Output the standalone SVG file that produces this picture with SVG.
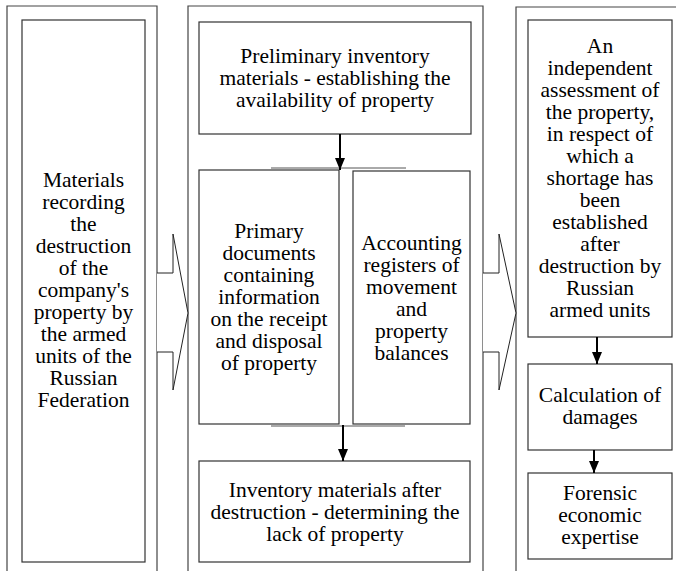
<svg xmlns="http://www.w3.org/2000/svg" width="676" height="571" viewBox="0 0 676 571">
  <defs>
    <marker id="head" viewBox="0 0 12 10" refX="12" refY="5" markerWidth="12" markerHeight="10" markerUnits="userSpaceOnUse" orient="auto">
      <path d="M0,0 L12,5 L0,10 Z" fill="#000"/>
    </marker>
  </defs>

  <rect width="676" height="571" fill="#fff"/>

  <!-- column frames (open at the bottom) -->
  <g id="frames" fill="none" stroke="#444" stroke-width="1.2">
    <path d="M7,571 V6 H157 V571"/>
    <path d="M188,571 V6 H483 V571"/>
    <path d="M516,571 V7 H677"/>
  </g>

  <!-- wide hollow arrows between the columns -->
  <g id="transfer-arrows" fill="#fff" stroke="#222" stroke-width="1">
    <path d="M157,273 H173 V234 L188,313 L173,390 V352 H157"/>
    <path d="M483,273 H499 V234 L516,313 L499,390 V352 H483"/>
  </g>

  <g id="boxes" fill="#fff" stroke="#333" stroke-width="1.2">
    <rect id="materials-box" x="22" y="20" width="123" height="542"/>
    <rect id="preliminary-box" x="199" y="22" width="272" height="112"/>
    <rect id="primary-box" x="199" y="170" width="140" height="254"/>
    <rect id="accounting-box" x="353" y="171" width="117" height="253"/>
    <rect id="inventory-box" x="199" y="461" width="271" height="101"/>
    <rect id="assessment-box" x="528" y="20" width="144" height="317"/>
    <rect id="damages-box" x="528" y="364" width="144" height="86"/>
    <rect id="expertise-box" x="528" y="473" width="144" height="86"/>
  </g>

  <g id="materials">
    <text font-family="Liberation Serif" font-size="21.5" text-anchor="middle" x="83.5" y="187">Materials</text>
    <text font-family="Liberation Serif" font-size="21.5" text-anchor="middle" x="83.5" y="209">recording</text>
    <text font-family="Liberation Serif" font-size="21.5" text-anchor="middle" x="83.5" y="231">the</text>
    <text font-family="Liberation Serif" font-size="21.5" text-anchor="middle" x="83.5" y="253">destruction</text>
    <text font-family="Liberation Serif" font-size="21.5" text-anchor="middle" x="83.5" y="275">of the</text>
    <text font-family="Liberation Serif" font-size="21.5" text-anchor="middle" x="83.5" y="297">company's</text>
    <text font-family="Liberation Serif" font-size="21.5" text-anchor="middle" x="83.5" y="319">property by</text>
    <text font-family="Liberation Serif" font-size="21.5" text-anchor="middle" x="83.5" y="341">the armed</text>
    <text font-family="Liberation Serif" font-size="21.5" text-anchor="middle" x="83.5" y="363">units of the</text>
    <text font-family="Liberation Serif" font-size="21.5" text-anchor="middle" x="83.5" y="385">Russian</text>
    <text font-family="Liberation Serif" font-size="21.5" text-anchor="middle" x="83.5" y="407">Federation</text>
  </g>

  <g id="preliminary">
    <text font-family="Liberation Serif" font-size="21.5" text-anchor="middle" x="335" y="63">Preliminary inventory</text>
    <text font-family="Liberation Serif" font-size="21.5" text-anchor="middle" x="335" y="85">materials - establishing the</text>
    <text font-family="Liberation Serif" font-size="21.5" text-anchor="middle" x="335" y="107">availability of property</text>
  </g>

  <g id="primary-documents">
    <text font-family="Liberation Serif" font-size="21.5" text-anchor="middle" x="269" y="238">Primary</text>
    <text font-family="Liberation Serif" font-size="21.5" text-anchor="middle" x="269" y="260">documents</text>
    <text font-family="Liberation Serif" font-size="21.5" text-anchor="middle" x="269" y="282">containing</text>
    <text font-family="Liberation Serif" font-size="21.5" text-anchor="middle" x="269" y="304">information</text>
    <text font-family="Liberation Serif" font-size="21.5" text-anchor="middle" x="269" y="326">on the receipt</text>
    <text font-family="Liberation Serif" font-size="21.5" text-anchor="middle" x="269" y="348">and disposal</text>
    <text font-family="Liberation Serif" font-size="21.5" text-anchor="middle" x="269" y="370">of property</text>
  </g>

  <g id="accounting-registers">
    <text font-family="Liberation Serif" font-size="21.5" text-anchor="middle" x="411.5" y="250">Accounting</text>
    <text font-family="Liberation Serif" font-size="21.5" text-anchor="middle" x="411.5" y="272">registers of</text>
    <text font-family="Liberation Serif" font-size="21.5" text-anchor="middle" x="411.5" y="294">movement</text>
    <text font-family="Liberation Serif" font-size="21.5" text-anchor="middle" x="411.5" y="316">and</text>
    <text font-family="Liberation Serif" font-size="21.5" text-anchor="middle" x="411.5" y="338">property</text>
    <text font-family="Liberation Serif" font-size="21.5" text-anchor="middle" x="411.5" y="360">balances</text>
  </g>

  <g id="inventory-after">
    <text font-family="Liberation Serif" font-size="21.5" text-anchor="middle" x="335" y="497">Inventory materials after</text>
    <text font-family="Liberation Serif" font-size="21.5" text-anchor="middle" x="335" y="519">destruction - determining the</text>
    <text font-family="Liberation Serif" font-size="21.5" text-anchor="middle" x="335" y="541">lack of property</text>
  </g>

  <g id="assessment">
    <text font-family="Liberation Serif" font-size="21.5" text-anchor="middle" x="600" y="53">An</text>
    <text font-family="Liberation Serif" font-size="21.5" text-anchor="middle" x="600" y="75">independent</text>
    <text font-family="Liberation Serif" font-size="21.5" text-anchor="middle" x="600" y="97">assessment of</text>
    <text font-family="Liberation Serif" font-size="21.5" text-anchor="middle" x="600" y="119">the property,</text>
    <text font-family="Liberation Serif" font-size="21.5" text-anchor="middle" x="600" y="141">in respect of</text>
    <text font-family="Liberation Serif" font-size="21.5" text-anchor="middle" x="600" y="163">which a</text>
    <text font-family="Liberation Serif" font-size="21.5" text-anchor="middle" x="600" y="185">shortage has</text>
    <text font-family="Liberation Serif" font-size="21.5" text-anchor="middle" x="600" y="207">been</text>
    <text font-family="Liberation Serif" font-size="21.5" text-anchor="middle" x="600" y="229">established</text>
    <text font-family="Liberation Serif" font-size="21.5" text-anchor="middle" x="600" y="251">after</text>
    <text font-family="Liberation Serif" font-size="21.5" text-anchor="middle" x="600" y="273">destruction by</text>
    <text font-family="Liberation Serif" font-size="21.5" text-anchor="middle" x="600" y="295">Russian</text>
    <text font-family="Liberation Serif" font-size="21.5" text-anchor="middle" x="600" y="317">armed units</text>
  </g>

  <g id="damages">
    <text font-family="Liberation Serif" font-size="21.5" text-anchor="middle" x="600" y="402">Calculation of</text>
    <text font-family="Liberation Serif" font-size="21.5" text-anchor="middle" x="600" y="424">damages</text>
  </g>

  <g id="expertise">
    <text font-family="Liberation Serif" font-size="21.5" text-anchor="middle" x="600" y="500">Forensic</text>
    <text font-family="Liberation Serif" font-size="21.5" text-anchor="middle" x="600" y="522">economic</text>
    <text font-family="Liberation Serif" font-size="21.5" text-anchor="middle" x="600" y="544">expertise</text>
  </g>

  <!-- connectors -->
  <g id="connectors" fill="none">
    <path stroke="#555" stroke-width="1" d="M271,168 H406"/>
    <path stroke="#555" stroke-width="1" d="M271,426 H405"/>
    <path stroke="#000" stroke-width="2" d="M340,134 V170" marker-end="url(#head)"/>
    <path stroke="#000" stroke-width="2" d="M343,425 V461" marker-end="url(#head)"/>
    <path stroke="#000" stroke-width="2" d="M597,337 V364" marker-end="url(#head)"/>
    <path stroke="#000" stroke-width="2" d="M594,450 V473" marker-end="url(#head)"/>
  </g>
</svg>
